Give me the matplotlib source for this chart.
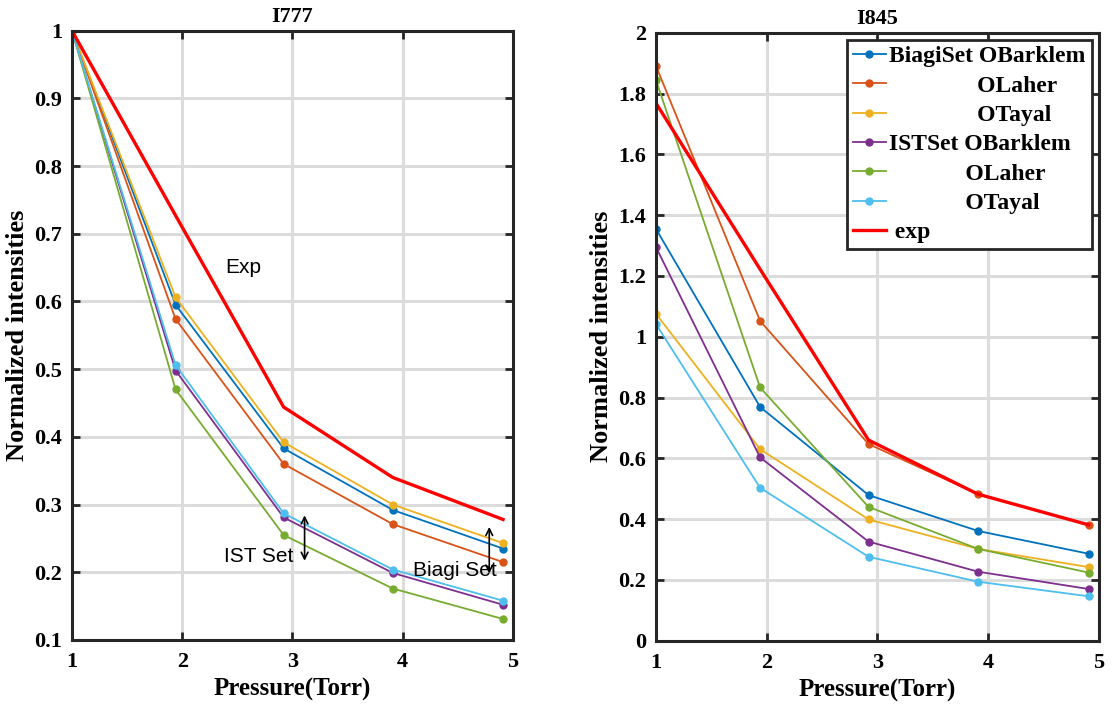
import matplotlib
matplotlib.use('Agg')
import matplotlib.pyplot as plt
from matplotlib.ticker import FuncFormatter

# pressure values (Torr)
pressure = [1, 1.94, 2.92, 3.91, 4.91]

# I777 normalized intensities
i777_biagi_barklem = [1, 0.595, 0.383, 0.292, 0.235]
i777_biagi_laher = [1, 0.574, 0.360, 0.271, 0.215]
i777_biagi_tayal = [1, 0.606, 0.392, 0.300, 0.243]
i777_ist_barklem = [1, 0.498, 0.281, 0.199, 0.152]
i777_ist_laher = [1, 0.470, 0.255, 0.176, 0.131]
i777_ist_tayal = [1, 0.506, 0.287, 0.204, 0.158]
i777_exp = [1, 0.727, 0.444, 0.340, 0.278]

# I845 normalized intensities
i845_biagi_barklem = [1.354, 0.769, 0.479, 0.361, 0.286]
i845_biagi_laher = [1.89, 1.052, 0.647, 0.482, 0.381]
i845_biagi_tayal = [1.075, 0.630, 0.399, 0.302, 0.242]
i845_ist_barklem = [1.294, 0.603, 0.326, 0.227, 0.170]
i845_ist_laher = [1.843, 0.833, 0.440, 0.302, 0.224]
i845_ist_tayal = [1.041, 0.503, 0.276, 0.194, 0.146]
i845_exp = [1.768, 1.222, 0.660, 0.482, 0.381]

labels = ['BiagiSet OBarklem',
          ' ' * 15 + 'OLaher',
          ' ' * 15 + 'OTayal',
          'ISTSet OBarklem',
          ' ' * 13 + 'OLaher',
          ' ' * 13 + 'OTayal',
          ' exp']
colors = ['#0072BD', '#D95319', '#EDB120', '#7E2F8E', '#77AC30', '#4DBEEE']

serif = ['Liberation Serif', 'DejaVu Serif']
sans = ['Liberation Sans', 'DejaVu Sans']
plt.rcParams['font.family'] = serif
plt.rcParams['font.weight'] = 'bold'
plt.rcParams['axes.linewidth'] = 2.2
plt.rcParams['axes.edgecolor'] = '#262626'

fig = plt.figure(figsize=(11.12, 7.11), dpi=100)
ax1 = fig.add_axes([0.0647, 0.0999, 0.3966, 0.857])
ax2 = fig.add_axes([0.590, 0.0989, 0.398, 0.855])


def style(ax):
    ax.grid(True, color='#dcdcdc', linewidth=2.2)
    ax.set_axisbelow(True)
    ax.tick_params(direction='in', length=6, width=2, top=True, right=True,
                   labelsize=16, color='#262626')
    ax.tick_params(axis='x', pad=9)
    ax.tick_params(axis='y', pad=7)
    for lab in ax.get_xticklabels() + ax.get_yticklabels():
        lab.set_fontweight('bold')
    ax.set_xlim(1, 5)
    ax.set_xticks([1, 2, 3, 4, 5])
    ax.set_xlabel('Pressure(Torr)', fontsize=18, fontweight='bold', labelpad=4)
    ax.set_ylabel('Normalized intensities', fontsize=19, fontweight='bold', labelpad=4)


sets1 = [i777_biagi_barklem, i777_biagi_laher, i777_biagi_tayal,
         i777_ist_barklem, i777_ist_laher, i777_ist_tayal]
sets2 = [i845_biagi_barklem, i845_biagi_laher, i845_biagi_tayal,
         i845_ist_barklem, i845_ist_laher, i845_ist_tayal]

fmt = FuncFormatter(lambda v, p: '%g' % round(v, 2))

# left: I777
for ys, c in zip(sets1, colors):
    ax1.plot(pressure, ys, '-o', color=c, lw=1.3, ms=5)
ax1.plot(pressure, i777_exp, '-', color='#FF0000', lw=2.4)
ax1.set_ylim(0.1, 1)
ax1.set_yticks([0.1, 0.2, 0.3, 0.4, 0.5, 0.6, 0.7, 0.8, 0.9, 1])
ax1.yaxis.set_major_formatter(fmt)
ax1.set_title('I777', fontsize=16, fontweight='bold', pad=6)
style(ax1)

ax1.text(2.55, 0.65, 'Exp', fontsize=15, family=sans, fontweight='normal',
         ha='center', va='center')
ax1.text(2.69, 0.224, 'IST Set', fontsize=15, family=sans, fontweight='normal',
         ha='center', va='center')
ax1.text(4.47, 0.203, 'Biagi Set', fontsize=15, family=sans, fontweight='normal',
         ha='center', va='center')
ax1.annotate('', xy=(3.11, 0.284), xytext=(3.11, 0.217),
             arrowprops=dict(arrowstyle='<->', lw=1.2, color='black',
                             mutation_scale=12, shrinkA=0, shrinkB=0))
ax1.annotate('', xy=(4.785, 0.267), xytext=(4.785, 0.198),
             arrowprops=dict(arrowstyle='<->', lw=1.2, color='black',
                             mutation_scale=12, shrinkA=0, shrinkB=0))

# right: I845
for ys, c, lab in zip(sets2, colors, labels):
    ax2.plot(pressure, ys, '-o', color=c, lw=1.3, ms=5, label=lab)
ax2.plot(pressure, i845_exp, '-', color='#FF0000', lw=2.4, label=labels[6])
ax2.set_ylim(0, 2)
ax2.set_yticks([0, 0.2, 0.4, 0.6, 0.8, 1, 1.2, 1.4, 1.6, 1.8, 2])
ax2.yaxis.set_major_formatter(fmt)
ax2.set_title('I845', fontsize=16, fontweight='bold', pad=6)
style(ax2)

leg = ax2.legend(loc='upper right', prop={'weight': 'bold', 'size': 17},
                 handlelength=1.4, handletextpad=0.15, labelspacing=0.33,
                 borderpad=0.25, borderaxespad=0.3, fancybox=False,
                 framealpha=1, edgecolor='#262626')
leg.get_frame().set_linewidth(2)

plt.savefig('out.png', dpi=100)
